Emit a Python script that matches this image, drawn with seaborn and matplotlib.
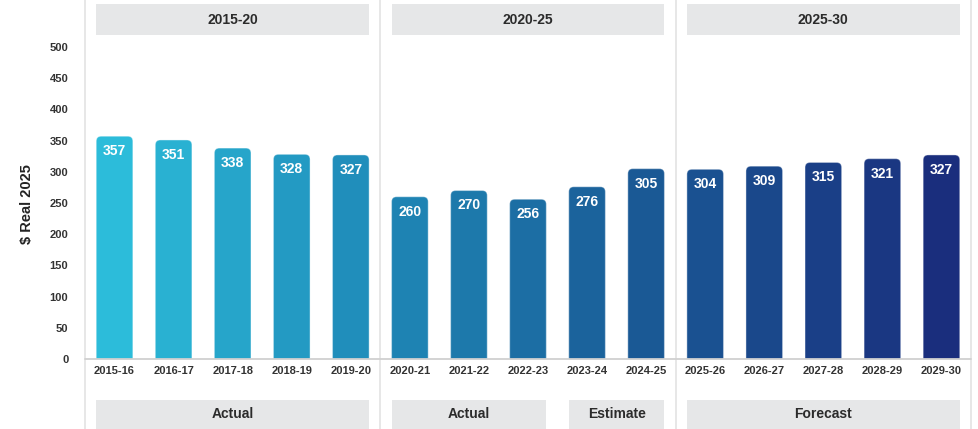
import matplotlib
matplotlib.use("Agg")
import matplotlib.pyplot as plt
import seaborn as sns
import numpy as np
import pandas as pd
from matplotlib.patches import FancyBboxPatch, Rectangle
from matplotlib.colors import LinearSegmentedColormap

# Spending per year, $ real 2025
years = ["2015-16", "2016-17", "2017-18", "2018-19", "2019-20",
         "2020-21", "2021-22", "2022-23", "2023-24", "2024-25",
         "2025-26", "2026-27", "2027-28", "2028-29", "2029-30"]
values = [357, 351, 338, 328, 327,
          260, 270, 256, 276, 305,
          304, 309, 315, 321, 327]

# Five-year periods (header bands) and status (footer bands)
periods = ["2015-20", "2020-25", "2025-30"]
period_of_year = ["2015-20"] * 5 + ["2020-25"] * 5 + ["2025-30"] * 5
statuses = ["Actual", "Actual", "Estimate", "Forecast"]
status_of_year = (["Actual"] * 5 + ["Actual2"] * 3 + ["Estimate"] * 2
                  + ["Forecast"] * 5)
status_keys = ["Actual", "Actual2", "Estimate", "Forecast"]

y_ticks = [0, 50, 100, 150, 200, 250, 300, 350, 400, 450, 500]
y_label = "$ Real 2025"

df = pd.DataFrame({"year": years, "value": values})

sns.set_theme(style="white")
plt.rcParams["font.family"] = ["Liberation Sans", "DejaVu Sans"]

W, H = 979, 429
fig = plt.figure(figsize=(W / 100, H / 100), dpi=100)
ax = fig.add_axes([85 / W, (H - 359) / H, (971 - 85) / W, 359 / H])

cmap = LinearSegmentedColormap.from_list(
    "blues", [(0.0, "#2cbcda"), (0.3, "#1f8cb9"), (0.62, "#1a5c97"), (1.0, "#1a2e7d")])
palette = [cmap(i / (len(years) - 1)) for i in range(len(years))]

bar_w = 0.62
sns.barplot(data=df, x="year", y="value", hue="year", palette=palette,
            width=bar_w, legend=False, ax=ax, saturation=1)

ymax = 575.3
ybot = -112.5
ax.set_xlim(-0.5, len(years) - 0.5)
ax.set_ylim(0, ymax)

# rounded-top bars: rebuild each seaborn bar as a rounded box, bottom hidden below axis
px_x = (971 - 85) / len(years)      # pixels per x unit
px_y = 359 / ymax                   # pixels per y unit
radius_px = 5
for p, c in zip(list(ax.patches), palette):
    x0, w, h = p.get_x(), p.get_width(), p.get_height()
    p.set_visible(False)
    r = radius_px / px_x
    box = FancyBboxPatch((x0 + r, -40), w - 2 * r, h + 40 - r * (px_x / px_y),
                         boxstyle=f"round,pad={r}",
                         mutation_aspect=px_x / px_y,
                         facecolor=c, edgecolor=(1, 1, 1, 0.35), linewidth=0.8,
                         zorder=3)
    ax.add_patch(box)
    ax.text(x0 + w / 2, h - 24, f"{h:.0f}", ha="center", va="center",
            color="white", fontsize=10, fontweight="bold", zorder=4)

# header bands
idx = np.arange(len(years))
for per in periods:
    sel = idx[np.array(period_of_year) == per]
    x0, x1 = sel.min() - bar_w / 2, sel.max() + bar_w / 2
    ax.add_patch(Rectangle((x0, 519), x1 - x0, 50, facecolor="#e6e7e8",
                           edgecolor="none", zorder=1, clip_on=False))
    ax.text((x0 + x1) / 2, 544, per, ha="center", va="center",
            fontsize=10, fontweight="bold", color="#2b2b2b")

# footer bands
for key, lab in zip(status_keys, statuses):
    sel = idx[np.array(status_of_year) == key]
    x0, x1 = sel.min() - bar_w / 2, sel.max() + bar_w / 2
    ax.add_patch(Rectangle((x0, ybot - 10), x1 - x0, -65.7 - (ybot - 10),
                           facecolor="#e6e7e8", edgecolor="none",
                           zorder=1, clip_on=False))
    ax.text((x0 + x1) / 2, -88, lab, ha="center", va="center",
            fontsize=10, fontweight="bold", color="#2b2b2b")

# period dividers
for xv in [-0.5, 4.5, 9.5, 14.5]:
    ax.vlines(xv, ybot, ymax + 5, colors="#e3e3e3", linewidth=1.2,
              clip_on=False, zorder=0)
ax.axhline(0, color="#d0d0d0", linewidth=1.3, zorder=5, clip_on=False)

for s in ax.spines.values():
    s.set_visible(False)
ax.set_yticks(y_ticks)
ax.set_yticklabels([str(t) for t in y_ticks], fontsize=8, fontweight="bold",
                   color="#333333")
ax.tick_params(axis="y", length=0, pad=12)
ax.tick_params(axis="x", length=0, pad=5)
ax.set_xticks(idx)
ax.set_xticklabels(years, fontsize=8, fontweight="bold", color="#333333")
ax.set_xlabel("")
ax.set_ylabel(y_label, fontsize=10.5, fontweight="bold", color="#222222")
ax.yaxis.set_label_coords(-0.0576, 0.432)
ax.grid(False)

fig.savefig("out.png", dpi=100, facecolor="white")
